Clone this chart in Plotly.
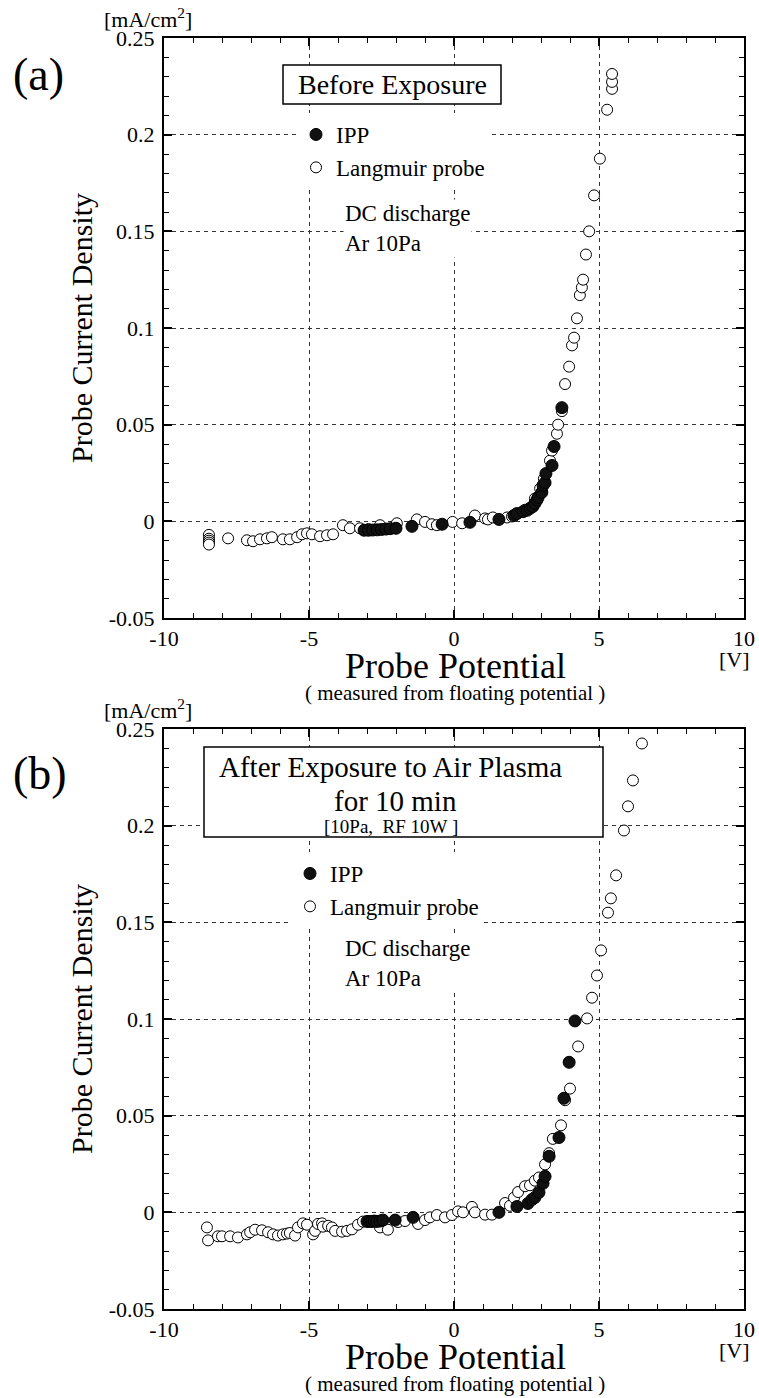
import plotly.graph_objects as go

# ---------------- data ----------------
# Panel (a): before exposure
a_lp_x = [-8.45, -8.45, -8.45, -8.45, -8.45, -7.79, -7.14, -6.93, -6.69, -6.45, -6.28,
          -5.90, -5.66, -5.41, -5.24, -5.07, -4.90, -4.62, -4.38, -4.17, -3.83, -3.59,
          -3.24, -2.95, -2.55, -1.97, -1.28, -1.00, -0.76, -0.59, -0.05, 0.28, 0.72,
          1.07, 1.17, 1.34, 1.83, 2.00, 2.45, 2.79, 2.97, 3.10, 3.31, 3.38, 3.55, 3.59,
          3.72, 3.83, 3.97, 4.07, 4.14, 4.24, 4.34, 4.41, 4.45, 4.55, 4.66, 4.83, 5.03,
          5.28, 5.45, 5.45, 5.45]
a_lp_y = [-0.007, -0.009, -0.010, -0.011, -0.012, -0.0088, -0.0098, -0.0103, -0.0093,
          -0.0088, -0.0082, -0.0093, -0.0093, -0.0082, -0.0067, -0.0062, -0.0067, -0.0077,
          -0.0072, -0.0067, -0.0020, -0.0036, -0.0036, -0.0040, -0.0020, -0.0010, 0.0010,
          -0.0003, -0.0015, -0.0020, -0.0003, -0.0010, 0.0030, 0.0015, 0.0010, 0.0020,
          0.0020, 0.0025, 0.0060, 0.0118, 0.0170, 0.0220, 0.0314, 0.0366, 0.0453, 0.0500,
          0.0570, 0.0710, 0.0800, 0.0910, 0.0950, 0.1050, 0.1170, 0.1210, 0.1250, 0.1380,
          0.1500, 0.1686, 0.1876, 0.2129, 0.2237, 0.2273, 0.2314]
a_ipp_x = [-3.10, -2.95, -2.80, -2.65, -2.50, -2.35, -2.20, -2.00, -1.45, -0.41, 0.55,
           1.55, 2.07, 2.17, 2.38, 2.52, 2.62, 2.72, 2.79, 2.86, 2.90, 3.03, 3.07, 3.14,
           3.17, 3.38, 3.45, 3.72]
a_ipp_y = [-0.0046, -0.0046, -0.0045, -0.0044, -0.0042, -0.0040, -0.0038, -0.0036,
           -0.0026, -0.0015, -0.0005, 0.0010, 0.0030, 0.0040, 0.0050, 0.0057, 0.0067,
           0.0077, 0.0093, 0.0110, 0.0124, 0.0150, 0.0186, 0.0200, 0.0247, 0.0289,
           0.0387, 0.0588]

# Panel (b): after exposure to air plasma
b_lp_x = [-8.52, -8.48, -8.14, -8.00, -7.72, -7.45, -7.14, -7.03, -6.86, -6.62, -6.41,
          -6.24, -6.07, -5.90, -5.76, -5.66, -5.48, -5.38, -5.21, -5.07, -4.86, -4.79,
          -4.69, -4.55, -4.52, -4.34, -4.21, -4.10, -3.86, -3.69, -3.52, -3.31, -3.14,
          -2.55, -2.28, -1.93, -1.69, -1.24, -1.00, -0.83, -0.59, -0.31, -0.07, 0.14,
          0.31, 0.62, 0.72, 1.07, 1.31, 1.76, 1.93, 2.07, 2.21, 2.45, 2.62, 2.79, 2.93,
          3.14, 3.28, 3.41, 3.69, 3.83, 4.00, 4.28, 4.59, 4.76, 4.93, 5.07, 5.31, 5.41,
          5.59, 5.86, 6.00, 6.17, 6.48]
b_lp_y = [-0.0078, -0.0145, -0.0124, -0.0124, -0.0124, -0.0130, -0.0114, -0.0103,
          -0.0090, -0.0093, -0.0103, -0.0114, -0.0120, -0.0114, -0.0110, -0.0107,
          -0.0120, -0.0078, -0.0057, -0.0064, -0.0114, -0.0096, -0.0060, -0.0057,
          -0.0074, -0.0070, -0.0078, -0.0096, -0.0100, -0.0096, -0.0088, -0.0064,
          -0.0048, -0.0078, -0.0090, -0.0050, -0.0045, -0.0060, -0.0040, -0.0026,
          -0.0014, -0.0026, -0.0014, 0.0005, 0.0000, 0.0028, 0.0000, -0.0012, -0.0012,
          0.0048, 0.0034, 0.0076, 0.0105, 0.0135, 0.0140, 0.0164, 0.0180, 0.0248,
          0.0306, 0.0380, 0.0450, 0.0580, 0.0640, 0.0858, 0.1003, 0.1110, 0.1225,
          0.1355, 0.1550, 0.1624, 0.1743, 0.1975, 0.2100, 0.2234, 0.2425]
b_ipp_x = [-3.00, -2.90, -2.83, -2.75, -2.66, -2.55, -2.45, -2.03, -1.41, 1.55, 2.17,
           2.55, 2.69, 2.79, 2.93, 3.07, 3.14, 3.28, 3.62, 3.79, 3.97, 4.17]
b_ipp_y = [-0.0047, -0.0047, -0.0047, -0.0045, -0.0047, -0.0045, -0.0040, -0.0040,
           -0.0026, 0.0000, 0.0030, 0.0046, 0.0066, 0.0077, 0.0103, 0.0150, 0.0186,
           0.0290, 0.0387, 0.0590, 0.0776, 0.0990]

x_tickvals = [-10, -5, 0, 5, 10]
x_ticktext = ["-10", "-5", "0", "5", "10"]
y_tickvals = [-0.05, 0, 0.05, 0.1, 0.15, 0.2, 0.25]
y_ticktext = ["-0.05", "0", "0.05", "0.1", "0.15", "0.2", "0.25"]

SERIF = "Liberation Serif, Times New Roman, serif"
W, H = 759, 1398

# plot-area geometry in page pixels
PL, PR = 164, 744
A_T, A_B = 38, 618
B_T, B_B = 729, 1309


def px(x):
    return x / W


def py(y):
    return 1 - y / H


fig = go.Figure()

open_marker = dict(symbol="circle", size=11, color="white", line=dict(color="black", width=1))
fill_marker = dict(symbol="circle", size=12, color="#111111", line=dict(color="black", width=1))

fig.add_trace(go.Scatter(x=a_lp_x, y=a_lp_y, mode="markers", name="Langmuir probe",
                         marker=open_marker, xaxis="x", yaxis="y", legend="legend",
                         legendrank=2))
fig.add_trace(go.Scatter(x=a_ipp_x, y=a_ipp_y, mode="markers", name="IPP",
                         marker=fill_marker, xaxis="x", yaxis="y", legend="legend",
                         legendrank=1))
fig.add_trace(go.Scatter(x=b_lp_x, y=b_lp_y, mode="markers", name="Langmuir probe",
                         marker=open_marker, xaxis="x2", yaxis="y2", legend="legend2",
                         legendrank=2))
fig.add_trace(go.Scatter(x=b_ipp_x, y=b_ipp_y, mode="markers", name="IPP",
                         marker=fill_marker, xaxis="x2", yaxis="y2", legend="legend2",
                         legendrank=1))

xdom = [px(PL), px(PR)]
ydom_a = [py(A_B), py(A_T)]
ydom_b = [py(B_B), py(B_T)]

common = dict(showline=True, linecolor="black", linewidth=2, mirror="allticks",
              ticks="inside", ticklen=8, tickwidth=1.5, tickcolor="black",
              showgrid=True, gridcolor="#333333", gridwidth=1, griddash="4px,4px",
              zeroline=False, automargin=False,
              tickfont=dict(family=SERIF, size=22, color="black"))

xax = dict(common, range=[-10, 10], domain=xdom, tickmode="array",
           tickvals=x_tickvals, ticktext=x_ticktext, ticklabelstandoff=0,
           minor=dict(tickmode="linear", tick0=0, dtick=1, ticks="inside", ticklen=5,
                      tickwidth=1.2, tickcolor="black", showgrid=False))
yax = dict(common, range=[-0.05, 0.25], tickmode="array", tickvals=y_tickvals,
           ticktext=y_ticktext, ticklabelstandoff=3,
           minor=dict(tickmode="linear", tick0=0, dtick=0.01, ticks="inside", ticklen=5,
                      tickwidth=1.2, tickcolor="black", showgrid=False),
           title=dict(text="Probe Current Density", font=dict(family=SERIF, size=30, color="black"),
                      standoff=7))

fig.update_layout(
    xaxis=dict(xax, anchor="y"),
    yaxis=dict(yax, domain=ydom_a, anchor="x"),
    xaxis2=dict(xax, anchor="y2"),
    yaxis2=dict(yax, domain=ydom_b, anchor="x2"),
)

leg_common = dict(bgcolor="white", borderwidth=0, xanchor="left", yanchor="top",
                  font=dict(family=SERIF, size=23, color="black"), tracegroupgap=0)
fig.update_layout(
    legend=dict(leg_common, x=px(296), y=py(113)),
    legend2=dict(leg_common, x=px(290), y=py(852)),
)

shapes = [
    dict(type="rect", xref="paper", yref="paper", x0=px(283), x1=px(501),
         y0=py(104), y1=py(65), line=dict(color="black", width=1.5),
         fillcolor="white", layer="above"),
    dict(type="rect", xref="paper", yref="paper", x0=px(204), x1=px(603),
         y0=py(837), y1=py(747), line=dict(color="black", width=1.5),
         fillcolor="white", layer="above"),
]


def ann(text, x, y, size, xanchor="center", yanchor="middle", **kw):
    d = dict(text=text, x=px(x), y=py(y), xref="paper", yref="paper", showarrow=False,
             xanchor=xanchor, yanchor=yanchor, font=dict(family=SERIF, size=size, color="black"))
    d.update(kw)
    return d


annotations = [
    ann("(a)", 38, 74, 46),
    ann("(b)", 40, 773, 46),
    ann("[mA/cm<sup>2</sup>]", 148, 18, 22),
    ann("[mA/cm<sup>2</sup>]", 148, 709, 22),
    ann("[V]", 734, 659, 22),
    ann("[V]", 734, 1350, 22),
    ann("Probe Potential", 455, 666, 36),
    ann("Probe Potential", 455, 1357, 36),
    ann("( measured from floating potential )", 455, 693, 21),
    ann("( measured from floating potential )", 455, 1384, 21),
    ann("Before Exposure", 392, 85, 28),
    ann("After Exposure to Air Plasma", 390, 767, 29),
    ann("for 10 min", 395, 801, 29),
    ann("[10Pa,  RF 10W ]", 391, 826, 19),
    ann("DC discharge<br>Ar 10Pa", 343, 229, 23, xanchor="left", align="left",
        bgcolor="white"),
    ann("DC discharge<br>Ar 10Pa", 343, 963, 23, xanchor="left", align="left",
        bgcolor="white"),
]

fig.update_layout(
    width=W, height=H,
    margin=dict(l=0, r=0, t=0, b=0),
    paper_bgcolor="white", plot_bgcolor="white",
    shapes=shapes, annotations=annotations,
    font=dict(family=SERIF, color="black"),
)

fig.write_html(
    "out.html",
    config={"displayModeBar": False},
    post_script="document.body.style.margin='0px';"
                "document.documentElement.style.overflow='hidden';",
)
